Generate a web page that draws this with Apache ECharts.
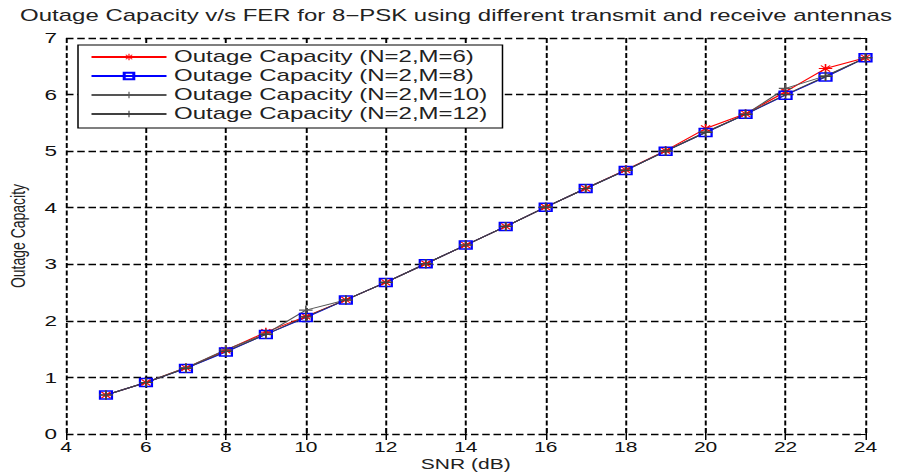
<!DOCTYPE html>
<html>
<head>
<meta charset="utf-8">
<script src="https://cdn.jsdelivr.net/npm/echarts@6/dist/echarts.min.js"></script>
<style>
    html, body { margin: 0; padding: 0; background: #fff; overflow: hidden; }
    /* the reference picture is stretched sideways, so draw narrow and widen it */
    #main { width: 608px; height: 473px; transform: scaleX(1.5); transform-origin: 0 0; }
</style>
</head>
<body>
<div id="main"></div>
<script>
var snr = [5, 6, 7, 8, 9, 10, 11, 12, 13, 14, 15, 16, 17, 18, 19, 20, 21, 22, 23, 24];
var capM6 = [0.69, 0.91, 1.17, 1.48, 1.80, 2.08, 2.37, 2.68, 3.01, 3.34, 3.67, 4.01, 4.34, 4.67, 5.01, 5.40, 5.66, 6.05, 6.46, 6.65];
var capM8 = [0.69, 0.91, 1.16, 1.45, 1.76, 2.06, 2.37, 2.68, 3.01, 3.34, 3.67, 4.01, 4.34, 4.66, 5.00, 5.33, 5.65, 5.99, 6.31, 6.65];
var capM10 = [0.69, 0.91, 1.17, 1.49, 1.77, 2.19, 2.37, 2.68, 3.01, 3.34, 3.67, 4.01, 4.34, 4.66, 5.00, 5.34, 5.65, 6.11, 6.33, 6.65];
var capM12 = [0.69, 0.91, 1.16, 1.46, 1.76, 2.07, 2.37, 2.68, 3.01, 3.34, 3.67, 4.01, 4.34, 4.66, 5.00, 5.33, 5.65, 6.00, 6.32, 6.65];
var seriesNames = ['Outage Capacity (N=2,M=6)', 'Outage Capacity (N=2,M=8)', 'Outage Capacity (N=2,M=10)', 'Outage Capacity (N=2,M=12)'];

var FONT = 'Liberation Sans, Arial, sans-serif';
var plusPath = 'path://M4.4,0H5.6V4.4H10V5.6H5.6V10H4.4V5.6H0V4.4H4.4Z';
var starPath = 'path://M4.4,0H5.6V4.4H10V5.6H5.6V10H4.4V5.6H0V4.4H4.4Z' +
    'M1.2,2L2,1.2L8.8,8L8,8.8Z M8,1.2L8.8,2L2,8.8L1.2,8Z';

function pairs(ys) {
    var out = [];
    for (var i = 0; i < snr.length; i++) {
        out.push([snr[i], ys[i]]);
    }
    return out;
}

var dash = [5, 2.5];

var myChart = echarts.init(document.getElementById('main'), null, {renderer: 'svg'});

option = {
    animation: false,
    backgroundColor: '#fff',
    title: {
        text: 'Outage Capacity v/s FER for 8\u2212PSK using different transmit and receive antennas',
        left: 'center',
        top: 3,
        textStyle: {
            fontFamily: FONT,
            fontSize: 16,
            fontWeight: 'normal',
            color: '#222'
        }
    },
    legend: {
        orient: 'vertical',
        left: 52,
        top: 45,
        padding: [4, 10, 6, 8],
        itemWidth: 50,
        itemHeight: 8,
        itemGap: 3,
        backgroundColor: '#fff',
        borderColor: '#000',
        borderWidth: 1,
        borderRadius: 0,
        textStyle: {
            fontFamily: FONT,
            fontSize: 16,
            lineHeight: 16,
            color: '#222'
        },
        data: seriesNames
    },
    grid: {
        left: 44,
        right: 31,
        top: 38,
        bottom: 39,
        outerBoundsMode: 'none'
    },
    xAxis: [
        {
            type: 'value',
            min: 4,
            max: 24,
            interval: 2,
            name: 'SNR (dB)',
            nameLocation: 'middle',
            nameGap: 23,
            nameMoveOverlap: false,
            nameTextStyle: {fontFamily: FONT, fontSize: 14, color: '#222'},
            axisLine: {show: false},
            axisTick: {show: true, inside: true, length: 6, lineStyle: {color: '#000'}},
            axisLabel: {margin: 6, fontFamily: FONT, fontSize: 14, color: '#111'},
            splitLine: {show: true, showMinLine: true, showMaxLine: true, lineStyle: {color: '#000', width: 1.3, type: dash}}
        },
        {
            type: 'value',
            position: 'top',
            min: 4,
            max: 24,
            interval: 2,
            axisLine: {show: false},
            axisTick: {show: true, inside: true, length: 6, lineStyle: {color: '#000'}},
            axisLabel: {show: false},
            splitLine: {show: false}
        }
    ],
    yAxis: [
        {
            type: 'value',
            min: 0,
            max: 7,
            interval: 1,
            name: 'Outage Capacity',
            nameLocation: 'middle',
            nameGap: 25,
            nameMoveOverlap: false,
            nameTextStyle: {fontFamily: FONT, fontSize: 14, color: '#222'},
            axisLine: {show: false},
            axisTick: {show: true, inside: true, length: 4, lineStyle: {color: '#000'}},
            axisLabel: {margin: 6, fontFamily: FONT, fontSize: 15, color: '#111'},
            splitLine: {show: true, showMinLine: true, showMaxLine: true, lineStyle: {color: '#000', width: 1.3, type: dash}}
        },
        {
            type: 'value',
            position: 'right',
            min: 0,
            max: 7,
            interval: 1,
            axisLine: {show: false},
            axisTick: {show: true, inside: true, length: 4, lineStyle: {color: '#000'}},
            axisLabel: {show: false},
            splitLine: {show: false}
        }
    ],
    series: [
        {
            name: seriesNames[0],
            type: 'line',
            data: pairs(capM6),
            symbol: starPath,
            symbolSize: 9,
            showAllSymbol: true,
            lineStyle: {color: '#ff0000', width: 1},
            itemStyle: {color: '#ff0000'}
        },
        {
            name: seriesNames[1],
            type: 'line',
            data: pairs(capM8),
            symbol: 'rect',
            symbolSize: 8,
            showAllSymbol: true,
            lineStyle: {color: '#0000ff', width: 1},
            itemStyle: {color: 'rgba(0,0,0,0)', borderColor: '#0000ff', borderWidth: 1.5}
        },
        {
            name: seriesNames[2],
            type: 'line',
            data: pairs(capM10),
            symbol: plusPath,
            symbolSize: 9,
            showAllSymbol: true,
            lineStyle: {color: '#555555', width: 1},
            itemStyle: {color: '#555555'}
        },
        {
            name: seriesNames[3],
            type: 'line',
            data: pairs(capM12),
            symbol: plusPath,
            symbolSize: 9,
            showAllSymbol: true,
            lineStyle: {color: '#404040', width: 1},
            itemStyle: {color: '#404040'}
        }
    ]
};
myChart.setOption(option);
</script>
</body>
</html>
